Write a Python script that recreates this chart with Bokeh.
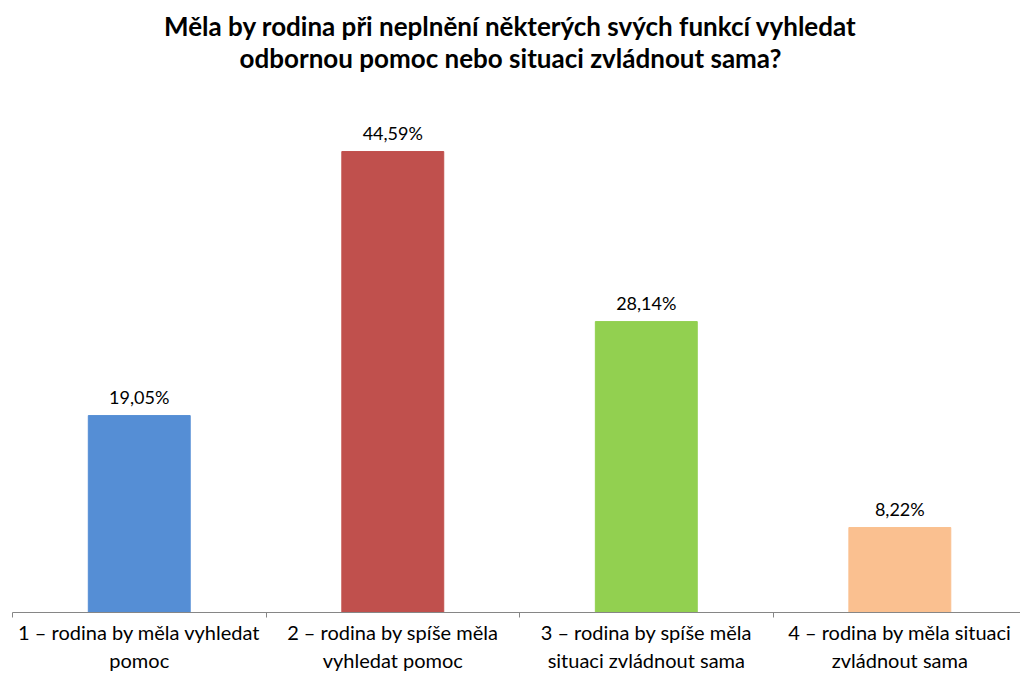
from bokeh.plotting import figure
from bokeh.models import Range1d, FixedTicker, ColumnDataSource, LabelSet, Label
from bokeh.core.properties import value
from bokeh.embed import file_html
from bokeh.resources import INLINE

categories = [
    "1 – rodina by měla vyhledat\npomoc",
    "2 – rodina by spíše měla\nvyhledat pomoc",
    "3 – rodina by spíše měla\nsituaci zvládnout sama",
    "4 – rodina by měla situaci\nzvládnout sama",
]
values = [19.05, 44.59, 28.14, 8.22]
value_labels = ["19,05%", "44,59%", "28,14%", "8,22%"]
colors = ["#558ED5", "#C0504D", "#92D050", "#FAC090"]
title_lines = [
    "Měla by rodina při neplnění některých svých funkcí vyhledat",
    "odbornou pomoc nebo situaci zvládnout sama?",
]

FONT = "Lato"
xs = [i + 0.5 for i in range(len(categories))]

p = figure(width=1020, height=675, output_backend="svg", toolbar_location=None,
           x_range=Range1d(0, 3.976), y_range=Range1d(0, 59.2),
           y_axis_location=None, min_border_left=12, min_border_right=0,
           min_border_bottom=60, min_border_top=0)
p.outline_line_color = None
p.xgrid.visible = False
p.ygrid.visible = False

src = ColumnDataSource(dict(x=xs, top=values, color=colors, lab=value_labels))
p.vbar(x="x", top="top", width=0.402, bottom=0, color="color", source=src)

labels = LabelSet(x="x", y="top", text="lab", source=src, text_align="center",
                  text_baseline="bottom", y_offset=8, text_font=value(FONT),
                  text_font_size="18px", text_color="#000000")
p.add_layout(labels)

ax = p.xaxis[0]
ax.ticker = FixedTicker(ticks=xs, minor_ticks=[0, 1, 2, 3, 4])
ax.major_label_overrides = {x: c for x, c in zip(xs, categories)}
ax.major_tick_out = 0
ax.major_tick_in = 0
ax.minor_tick_out = 5
ax.minor_tick_in = 0
ax.axis_line_color = "#868686"
ax.minor_tick_line_color = "#868686"
ax.major_label_text_font = FONT
ax.major_label_text_font_size = "20px"
ax.major_label_text_color = "#000000"
ax.major_label_standoff = 2

for line, yy in zip(title_lines, [587, 555]):
    p.add_layout(Label(x=498, y=yy, x_units="screen", y_units="screen",
                       text=line, text_align="center", text_baseline="middle",
                       text_font=FONT, text_font_size="26px",
                       text_font_style="bold", text_color="#000000"))

open("out.html", "w").write(file_html(p, INLINE))
